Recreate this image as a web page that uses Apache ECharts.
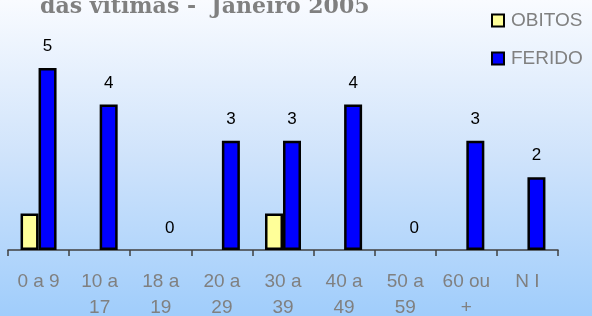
<!DOCTYPE html>
<html>
<head>
<meta charset="utf-8">
<script src="https://cdn.jsdelivr.net/npm/echarts@6/dist/echarts.min.js"></script>
<style>
html,body{margin:0;padding:0;}
#chart{width:592px;height:316px;background:linear-gradient(to bottom,#f9fbff 0%,#cfe3fb 50%,#a0cdfb 100%);}
</style>
</head>
<body>
<div id="chart"></div>
<script>
var categorias = ['0 a 9', '10 a\n17', '18 a\n19', '20 a\n29', '30 a\n39', '40 a\n49', '50 a\n59', '60 ou\n+', 'N I'];
var obitos = [1, 0, 0, 0, 1, 0, 0, 0, 0];
var feridos = [5, 4, 0, 3, 3, 4, 0, 3, 2];

// zero bars get no outline
function barData(valores) {
    return valores.map(function (v) {
        return v === 0 ? {value: v, itemStyle: {borderWidth: 0}} : v;
    });
}

var chart = echarts.init(document.getElementById('chart'));
chart.setOption({
    backgroundColor: 'transparent',
    animation: false,
    title: {
        text: 'das vitimas -  Janeiro 2005',
        left: 40,
        top: -4,
        padding: 0,
        textStyle: {
            fontFamily: 'DejaVu Serif',
            fontWeight: 'bold',
            fontSize: 22,
            color: '#808080'
        }
    },
    legend: {
        orient: 'vertical',
        left: 491,
        top: 11,
        padding: 0,
        itemWidth: 12,
        itemHeight: 12,
        itemGap: 19,
        icon: 'rect',
        textStyle: {
            fontFamily: 'Liberation Sans',
            fontSize: 19,
            color: '#808080',
            padding: [0, 0, 0, 2]
        },
        data: ['OBITOS', 'FERIDO']
    },
    grid: {
        left: 8,
        right: 34,
        top: 31.6,
        bottom: 66,
        outerBoundsMode: 'none',
        containLabel: false
    },
    xAxis: {
        type: 'category',
        data: categorias,
        axisLine: {show: true, lineStyle: {color: '#404040', width: 1.5}},
        axisTick: {show: true, length: 6, lineStyle: {color: '#404040', width: 1.5}},
        axisLabel: {
            interval: 0,
            color: '#808080',
            fontFamily: 'Liberation Sans',
            fontSize: 19,
            lineHeight: 26,
            margin: 19
        }
    },
    yAxis: {
        type: 'value',
        min: 0,
        max: 6,
        show: false,
        splitLine: {show: false}
    },
    series: [
        {
            name: 'OBITOS',
            type: 'bar',
            data: barData(obitos),
            barWidth: 18,
            barGap: '0%',
            itemStyle: {color: '#ffff99', borderColor: '#000', borderWidth: 2.5}
        },
        {
            name: 'FERIDO',
            type: 'bar',
            data: barData(feridos),
            barWidth: 18,
            itemStyle: {color: '#0000ff', borderColor: '#000', borderWidth: 2.5},
            label: {
                show: true,
                position: 'top',
                distance: 13,
                color: '#000',
                fontFamily: 'Liberation Sans',
                fontSize: 17
            }
        }
    ]
});
</script>
</body>
</html>
